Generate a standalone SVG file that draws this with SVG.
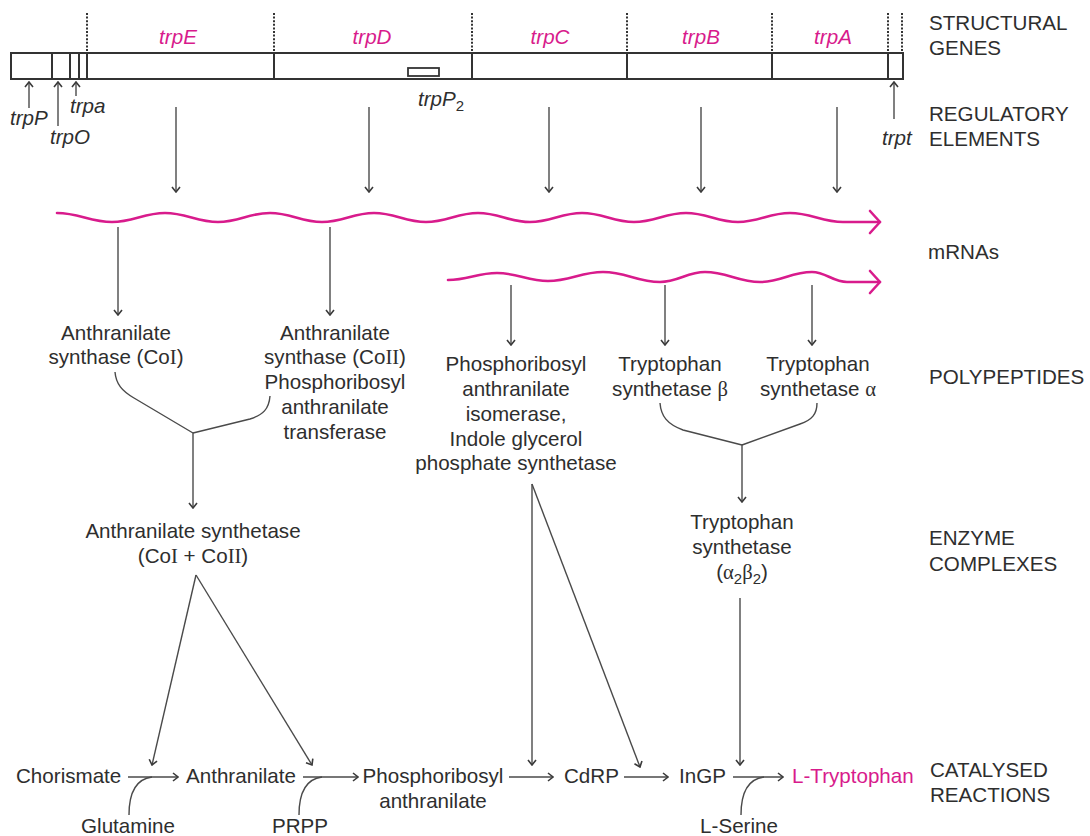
<svg xmlns="http://www.w3.org/2000/svg" width="1090" height="836" viewBox="0 0 1090 836">
<style>
text{font-family:"Liberation Sans",Arial,sans-serif;font-size:20.6px;fill:#2e2e2e}
.c{text-anchor:middle}
.it{font-style:italic}
.mg{fill:#d81b8c}
.sf{font-family:"Liberation Serif","Times New Roman",serif}
.sub{font-style:normal;font-size:15px}
.ln{fill:none;stroke:#4a4a4a;stroke-width:1.4}
.bar{fill:none;stroke:#333;stroke-width:2}
.dot{fill:none;stroke:#333;stroke-width:2;stroke-dasharray:2,1.6}
.rna{fill:none;stroke:#d81b8c;stroke-width:2.6;stroke-linecap:round;stroke-linejoin:round}
</style>
<defs>
<marker id="ah" viewBox="-7 -5 8 10" markerWidth="8" markerHeight="10" refX="0" refY="0" orient="auto" markerUnits="userSpaceOnUse">
<path d="M-5,-4 L0,0 L-5,4" fill="none" stroke="#3a3a3a" stroke-width="1.6"/>
</marker>
</defs>
<rect width="1090" height="836" fill="#fff"/>

<g id="gene-bar">
<rect x="11" y="53" width="892" height="26" fill="#fff" stroke="#333" stroke-width="2"/>
<path class="bar" d="M52,53V79M70,53V79M79,53V79M87,53V79M274,53V79M472,53V79M627,53V79M772,53V79M888,53V79"/>
<path class="dot" d="M87,13V53M274,13V53M472,13V53M627,13V53M772,13V53M888,13V53M902,13V53"/>
<rect x="408" y="68" width="31" height="8" fill="#fff" stroke="#333" stroke-width="1.8"/>
<text class="c it mg" x="178" y="44">trpE</text>
<text class="c it mg" x="372" y="44">trpD</text>
<text class="c it mg" x="550" y="44">trpC</text>
<text class="c it mg" x="701" y="44">trpB</text>
<text class="c it mg" x="833" y="44">trpA</text>
</g>

<g id="regulatory">
<text class="it" x="10" y="125">trpP</text>
<text class="it" x="50" y="144">trpO</text>
<text class="it" x="70" y="113">trpa</text>
<text class="it" x="418" y="106">trpP<tspan class="sub" dy="5">2</tspan></text>
<text class="it" x="882" y="145">trpt</text>
</g>

<g id="mrna1">
<path class="rna" d="M57,213 C79,213 90,222 112,222 C133,222 144,213 165,213 C186,213 197,222 218,222 C239,222 249,213 270,213 C291,213 301,222 322,222 C343,222 353,213 374,213 C395,213 405,222 426,222 C447,222 457,213 478,213 C499,213 509,222 530,222 C551,222 561,213 582,213 C603,213 613,222 634,222 C655,222 665,213 686,213 C707,213 717,222 738,222 C759,222 769,213 790,213 C811,213 822,222 843,222 L880,222"/>
<path class="rna" d="M870,211 L880,222 L870,233"/>
</g>
<g id="mrna2">
<path class="rna" d="M448,280 C468,280 477,273 497,273 C517,273 528,281 548,281 C570,281 581,272 603,272 C626,272 637,282 660,282 C678,282 687,272 705,272 C727,272 738,282 760,282 C781,282 791,272 812,272 C826,272 833,282 847,282 L880,282"/>
<path class="rna" d="M870,271 L880,282 L870,293"/>
</g>

<g id="poly-coI">
<text class="c" x="116" y="340">Anthranilate</text>
<text class="c" x="116" y="364">synthase (Co<tspan class="sf">I</tspan>)</text>
</g>
<g id="poly-coII">
<text class="c" x="335" y="340">Anthranilate</text>
<text class="c" x="335" y="364">synthase (Co<tspan class="sf">II</tspan>)</text>
<text class="c" x="335" y="389">Phosphoribosyl</text>
<text class="c" x="335" y="414">anthranilate</text>
<text class="c" x="335" y="439">transferase</text>
</g>
<g id="poly-isomerase">
<text class="c" x="516" y="371">Phosphoribosyl</text>
<text class="c" x="516" y="396">anthranilate</text>
<text class="c" x="516" y="421">isomerase,</text>
<text class="c" x="516" y="446">Indole glycerol</text>
<text class="c" x="516" y="470">phosphate synthetase</text>
</g>
<g id="poly-beta">
<text class="c" x="670" y="371">Tryptophan</text>
<text class="c" x="670" y="396">synthetase <tspan class="sf">β</tspan></text>
</g>
<g id="poly-alpha">
<text class="c" x="818" y="371">Tryptophan</text>
<text class="c" x="818" y="396">synthetase <tspan class="sf">α</tspan></text>
</g>

<g id="enz-anthranilate">
<text class="c" x="193" y="538">Anthranilate synthetase</text>
<text class="c" x="193" y="563">(Co<tspan class="sf">I</tspan> + Co<tspan class="sf">II</tspan>)</text>
</g>
<g id="enz-tryptophan">
<text class="c" x="742" y="529">Tryptophan</text>
<text class="c" x="742" y="554">synthetase</text>
<text class="c" x="742" y="579">(<tspan class="sf">α</tspan><tspan font-size="15" dy="5">2</tspan><tspan class="sf" dy="-5">β</tspan><tspan font-size="15" dy="5">2</tspan><tspan dy="-5">)</tspan></text>
</g>

<g id="reactions">
<text x="16" y="783">Chorismate</text>
<text x="186" y="783">Anthranilate</text>
<text class="c" x="433" y="783">Phosphoribosyl</text>
<text class="c" x="433" y="808">anthranilate</text>
<text x="564" y="783">CdRP</text>
<text x="679" y="783">InGP</text>
<text class="mg" x="792" y="783">L-Tryptophan</text>
<text class="c" x="128" y="833">Glutamine</text>
<text class="c" x="300" y="833">PRPP</text>
<text class="c" x="739" y="833">L-Serine</text>
</g>

<g id="row-labels">
<text x="929" y="30">STRUCTURAL</text>
<text x="929" y="55">GENES</text>
<text x="929" y="121">REGULATORY</text>
<text x="929" y="146">ELEMENTS</text>
<text x="928" y="259">mRNAs</text>
<text x="929" y="384">POLYPEPTIDES</text>
<text x="929" y="545">ENZYME</text>
<text x="929" y="571">COMPLEXES</text>
<text x="930" y="777">CATALYSED</text>
<text x="930" y="802">REACTIONS</text>
</g>

<g id="connectors">
<path class="ln" marker-end="url(#ah)" d="M29,108V82"/>
<path class="ln" marker-end="url(#ah)" d="M58,126V82"/>
<path class="ln" marker-end="url(#ah)" d="M76,96V82"/>
<path class="ln" marker-end="url(#ah)" d="M894,119V82"/>
<path class="ln" marker-end="url(#ah)" d="M176,107V192"/>
<path class="ln" marker-end="url(#ah)" d="M369,107V192"/>
<path class="ln" marker-end="url(#ah)" d="M549,107V192"/>
<path class="ln" marker-end="url(#ah)" d="M701,107V192"/>
<path class="ln" marker-end="url(#ah)" d="M837,107V192"/>
<path class="ln" marker-end="url(#ah)" d="M118,227V315"/>
<path class="ln" marker-end="url(#ah)" d="M330,227V315"/>
<path class="ln" marker-end="url(#ah)" d="M511,285V345"/>
<path class="ln" marker-end="url(#ah)" d="M665,285V345"/>
<path class="ln" marker-end="url(#ah)" d="M812,285V345"/>
<path class="ln" d="M115,372 C116,384 122,391 134,398 L193,433"/>
<path class="ln" d="M270,396 C269,409 263,415 250,419 L193,433"/>
<path class="ln" marker-end="url(#ah)" d="M193,433V508"/>
<path class="ln" d="M660,403 C661,416 667,424 683,430 L742,445"/>
<path class="ln" d="M817,403 C817,414 812,420 800,424 L742,445"/>
<path class="ln" marker-end="url(#ah)" d="M742,445V502"/>
<path class="ln" marker-end="url(#ah)" d="M196,575L152,765"/>
<path class="ln" marker-end="url(#ah)" d="M196,575L312,765"/>
<path class="ln" marker-end="url(#ah)" d="M532,484V765"/>
<path class="ln" marker-end="url(#ah)" d="M532,484L640,767"/>
<path class="ln" marker-end="url(#ah)" d="M740,598V765"/>
<path class="ln" marker-end="url(#ah)" d="M128,777H178"/>
<path class="ln" marker-end="url(#ah)" d="M303,777H358"/>
<path class="ln" marker-end="url(#ah)" d="M509,777H553"/>
<path class="ln" marker-end="url(#ah)" d="M624,777H668"/>
<path class="ln" marker-end="url(#ah)" d="M733,777H783"/>
<path class="ln" d="M129,815 C129,792 136,779 152,777"/>
<path class="ln" d="M299,815 C299,792 306,779 322,777"/>
<path class="ln" d="M741,815 C741,792 748,779 764,777"/>
</g>
</svg>
